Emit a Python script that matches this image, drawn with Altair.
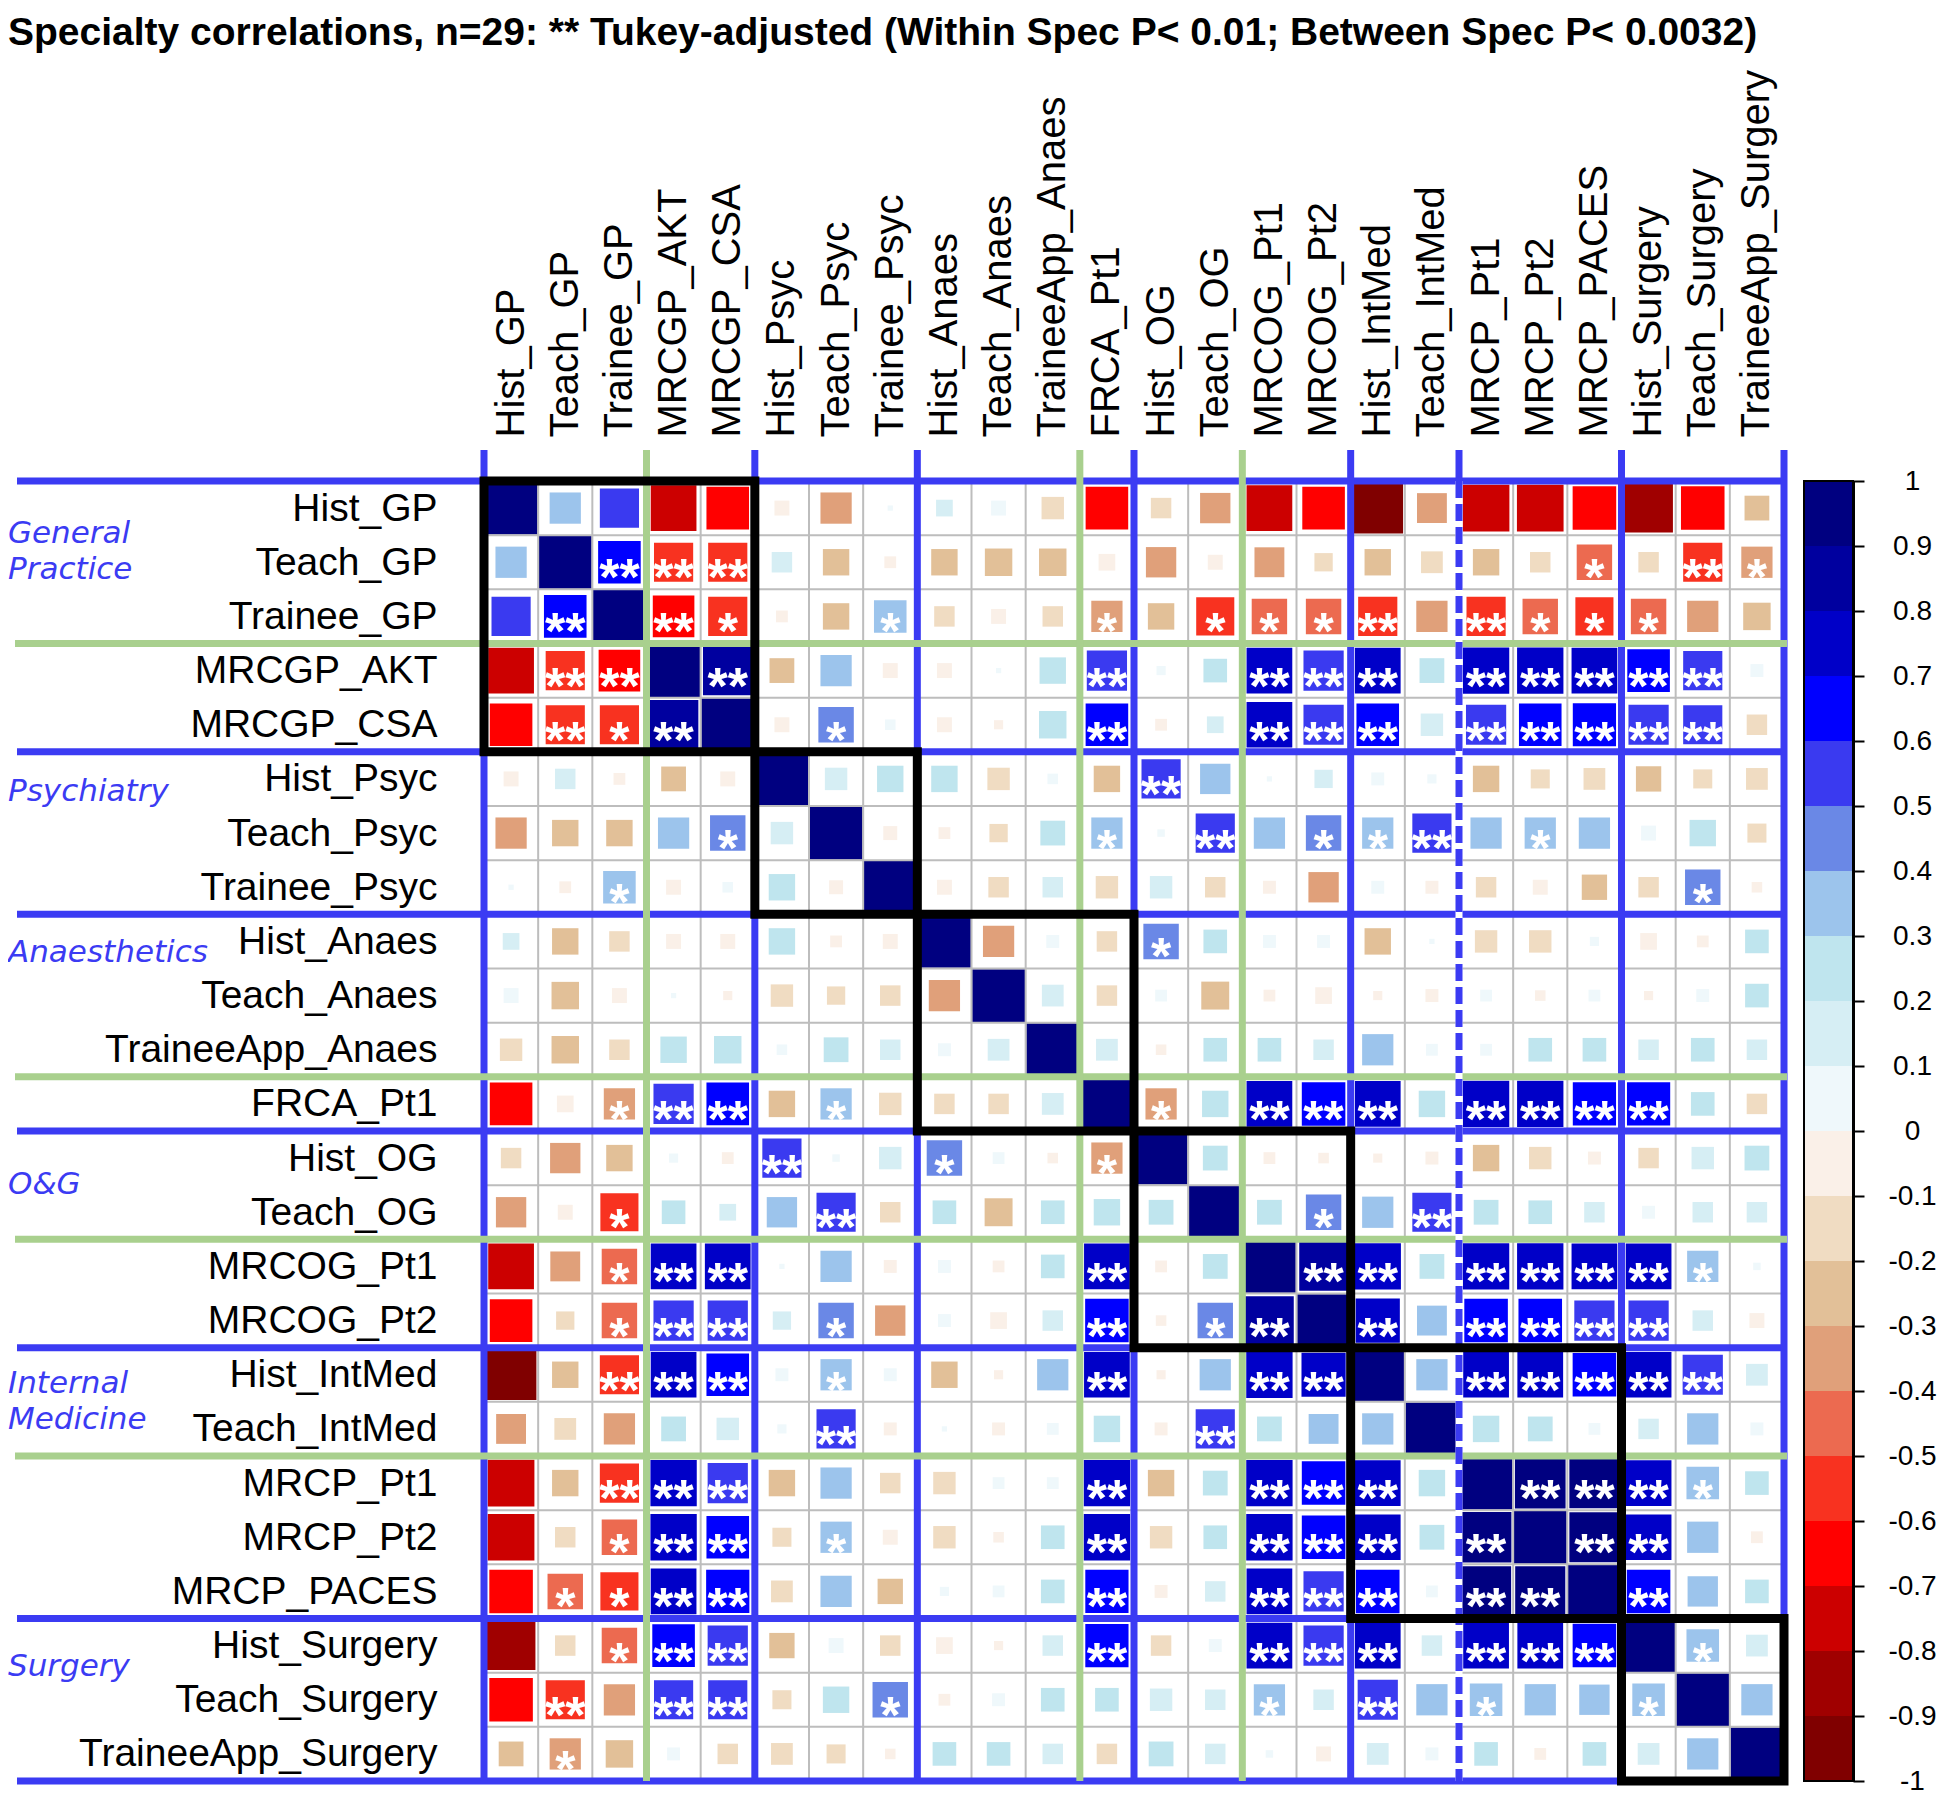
import json
import altair as alt
import pandas as pd

# ---------------- data ----------------
names = ["Hist_GP", "Teach_GP", "Trainee_GP", "MRCGP_AKT", "MRCGP_CSA",
         "Hist_Psyc", "Teach_Psyc", "Trainee_Psyc",
         "Hist_Anaes", "Teach_Anaes", "TraineeApp_Anaes", "FRCA_Pt1",
         "Hist_OG", "Teach_OG", "MRCOG_Pt1", "MRCOG_Pt2",
         "Hist_IntMed", "Teach_IntMed", "MRCP_Pt1", "MRCP_Pt2", "MRCP_PACES",
         "Hist_Surgery", "Teach_Surgery", "TraineeApp_Surgery"]

# lower triangle of the correlation matrix: row i (i>=1) holds r(i, 0..i-1)
lower = [
    [0.35],
    [0.55, 0.65],
    [-0.75, -0.55, -0.62],
    [-0.65, -0.55, -0.55, 0.88],
    [-0.08, 0.15, -0.05, -0.22, -0.08],
    [-0.35, -0.25, -0.25, 0.35, 0.45, 0.18],
    [0.01, -0.05, 0.38, -0.08, 0.04, 0.25, -0.07],
    [0.1, -0.25, -0.15, -0.08, -0.08, 0.25, -0.05, -0.08],
    [0.08, -0.27, -0.08, 0.01, -0.03, -0.18, -0.12, -0.15, -0.35],
    [-0.18, -0.27, -0.15, 0.25, 0.27, 0.04, 0.22, 0.15, 0.06, 0.17],
    [-0.65, -0.1, -0.35, 0.58, 0.65, -0.25, 0.35, -0.18, -0.15, -0.15, 0.17],
    [-0.15, -0.33, -0.25, 0.03, -0.05, 0.55, 0.02, 0.18, 0.45, 0.05, -0.04, -0.35],
    [-0.33, -0.08, -0.52, 0.2, 0.1, 0.33, 0.55, -0.15, 0.2, -0.28, 0.2, 0.25, 0.22],
    [-0.75, -0.32, -0.45, 0.75, 0.75, 0.01, 0.35, -0.06, 0.06, -0.05, 0.2, 0.75, -0.05, 0.22],
    [-0.65, -0.12, -0.45, 0.58, 0.58, 0.12, 0.45, -0.33, 0.06, -0.1, 0.15, 0.68, -0.04, 0.45, 0.85],
    [-0.92, -0.25, -0.55, 0.75, 0.65, 0.06, 0.35, 0.06, -0.25, -0.03, 0.35, 0.75, -0.03, 0.35, 0.77, 0.7],
    [-0.32, -0.17, -0.35, 0.22, 0.18, 0.03, 0.55, -0.06, 0.01, -0.06, 0.05, 0.25, -0.06, 0.55, 0.22, 0.32, 0.35],
    [-0.78, -0.25, -0.55, 0.77, 0.58, -0.25, 0.35, -0.15, -0.18, 0.05, 0.05, 0.77, -0.25, 0.22, 0.77, 0.68, 0.75, 0.25],
    [-0.78, -0.15, -0.45, 0.77, 0.65, -0.13, 0.35, -0.08, -0.18, -0.04, 0.2, 0.77, -0.18, 0.2, 0.77, 0.68, 0.75, 0.22, 0.92],
    [-0.68, -0.45, -0.52, 0.75, 0.67, -0.17, 0.35, -0.23, 0.03, 0.05, 0.2, 0.67, -0.06, 0.15, 0.75, 0.58, 0.68, 0.05, 0.9, 0.9],
    [-0.85, -0.15, -0.45, 0.65, 0.58, -0.23, 0.08, -0.15, -0.1, -0.03, 0.15, 0.67, -0.15, 0.06, 0.75, 0.58, 0.75, 0.15, 0.75, 0.75, 0.68],
    [-0.68, -0.55, -0.35, 0.55, 0.55, -0.13, 0.25, 0.45, -0.05, 0.06, 0.2, 0.2, 0.18, 0.15, 0.35, 0.15, 0.58, 0.35, 0.38, 0.35, 0.33, 0.38],
    [-0.22, -0.35, -0.27, 0.06, -0.15, -0.17, -0.13, -0.04, 0.2, 0.2, 0.15, -0.15, 0.22, 0.15, 0.02, -0.08, 0.17, 0.06, 0.2, -0.05, 0.2, 0.17, 0.35],
]

# significance codes, same layout: 0 = none, 1 = "*", 2 = "**"
star_codes = [
    "0",
    "02",
    "022",
    "0212",
    "00000",
    "000010",
    "0010000",
    "00000000",
    "000000000",
    "0000000000",
    "00122010000",
    "000002001001",
    "0010002000000",
    "00122000000200",
    "001220100002012",
    "0022201000020022",
    "00000020000002000",
    "002220000002002220",
    "0012201000020022202",
    "01122000000200222022",
    "001220000002002220222",
    "0202200100000010201001",
    "01000000000000000000000",
]

group_labels = ["General\nPractice", "Psychiatry", "Anaesthetics", "O&G",
                "Internal\nMedicine", "Surgery"]
group_rows = [1.31, 5.75, 8.72, 13.0, 17.0, 21.9]

blue_bounds = [0, 5, 8, 12, 16, 21, 24]
green_h_bounds = [3, 11, 14, 18]
green_v_bounds = [3, 11, 14]
dashed_v_bounds = [18]
box_lo = [0, 5, 8, 12, 16, 21]
box_hi = [5, 8, 12, 16, 21, 24]

thresholds = [round(-0.9 + 0.1 * k, 1) for k in range(19)]
palette = ["#800000", "#A00000", "#CC0000", "#FF0000", "#F83220",
           "#EC6A50", "#E0A07A", "#E2C098", "#F0DCC2", "#FAF0E8",
           "#EFF8FB", "#D6EEF4", "#BFE5EE", "#9CC4EC", "#6A88E6",
           "#3A3AF0", "#0000FF", "#0000C8", "#00009F", "#000080"]
tick_values = [round(-1 + 0.1 * k, 1) for k in range(21)]

# ---------------- styling ----------------
W = H = 1300
CELL = H / 24
BLUE = "#3B3BF3"
GREEN = "#A9D08E"
GRAY = "#BDBDBD"
FONT = "Liberation Sans"
GROUP_LINE_H = 36
LEG_X0, LEG_X1 = W + 20, W + 69

# ---------------- build tables ----------------
n = len(names)
recs = []
sym = {"0": "", "1": "*", "2": "**"}
for i in range(n):
    for j in range(n):
        if i == j:
            r, s = 1.0, ""
        else:
            a, b = max(i, j), min(i, j)
            r = lower[a - 1][b]
            s = sym[star_codes[a - 1][b]]
        recs.append({"row": i, "col": j, "r": r, "stars": s})
cells = pd.DataFrame(recs)

bounds_all = pd.DataFrame({"b": list(range(n + 1))})
blue_df = pd.DataFrame({"b": blue_bounds})
green_h_df = pd.DataFrame({"b": green_h_bounds})
green_v_df = pd.DataFrame({"b": green_v_bounds})
dashed_df = pd.DataFrame({"b": dashed_v_bounds})
boxes_df = pd.DataFrame({"lo": box_lo, "hi": box_hi})
groups_df = pd.DataFrame({"label": group_labels, "center": group_rows})
# first-line anchor so that a multi-line block is centred on its row position
groups_df["pos"] = groups_df["center"] - (
    groups_df["label"].str.count("\n") * GROUP_LINE_H / 2 / CELL)
bins_df = pd.DataFrame({"lo": tick_values[:-1], "hi": tick_values[1:]})
bins_df["mid"] = (bins_df["lo"] + bins_df["hi"]) / 2
frame_df = pd.DataFrame({"lo": [tick_values[0]], "hi": [tick_values[-1]]})

label_expr = json.dumps(names) + "[floor(datum.value)]"
centers = [i + 0.5 for i in range(n)]

xscale = alt.Scale(domain=[0, n], nice=False, zero=False)
yscale = alt.Scale(domain=[0, n], nice=False, zero=False, reverse=True)

xaxis = alt.Axis(orient="top", values=centers, labelExpr=label_expr,
                 labelAngle=270, labelAlign="left", labelBaseline="middle",
                 labelPadding=44, labelFontSize=40, labelFont=FONT,
                 labelColor="black", ticks=False, domain=False, grid=False,
                 labelOverlap=False, labelFlush=False, labelLimit=800)
yaxis = alt.Axis(orient="left", values=centers, labelExpr=label_expr,
                 labelAlign="right", labelBaseline="middle",
                 labelPadding=47, labelFontSize=39, labelFont=FONT,
                 labelColor="black", ticks=False, domain=False, grid=False,
                 labelOverlap=False, labelFlush=False, labelLimit=800)


def X(field):
    # every layer carries the same (shared) top axis so that they merge
    return alt.X(field, scale=xscale, axis=xaxis, title=None)


color_scale = alt.Scale(type="threshold", domain=thresholds, range=palette)

base = alt.Chart(cells).transform_calculate(
    xc="datum.col + 0.5", yc="datum.row + 0.5", ar="abs(datum.r)")

squares = base.mark_square(filled=True, opacity=1).encode(
    x=X("xc:Q"),
    y=alt.Y("yc:Q", scale=yscale, axis=yaxis, title=None),
    color=alt.Color("r:Q", scale=color_scale, legend=None),
    size=alt.Size("ar:Q", scale=alt.Scale(domain=[0, 1], range=[0, 2790]),
                  legend=None),
)

stars = base.transform_filter("datum.stars != ''").mark_text(
    color="white", font=FONT, fontSize=52, fontWeight="bold",
    baseline="alphabetic", align="center", dy=33).encode(
    x=X("xc:Q"),
    y=alt.Y("yc:Q", scale=yscale, axis=None),
    text="stars:N",
)


def vrules(df, color, width, top, dash=None):
    kw = dict(color=color, strokeWidth=width)
    if dash:
        kw["strokeDash"] = dash
    return alt.Chart(df).mark_rule(**kw).encode(
        x=X("b:Q"), y=alt.value(top), y2=alt.value(H))


def hrules(df, color, width, left, right):
    return alt.Chart(df).mark_rule(color=color, strokeWidth=width).encode(
        y=alt.Y("b:Q", scale=yscale, axis=None),
        x=alt.value(left), x2=alt.value(right))


grid_v = vrules(bounds_all, GRAY, 2, 0)
grid_h = hrules(bounds_all, GRAY, 2, 0, W)
blue_v = vrules(blue_df, BLUE, 7, -31)
blue_h = hrules(blue_df, BLUE, 7, -467, W + 3)
green_v = vrules(green_v_df, GREEN, 7, -31)
green_h = hrules(green_h_df, GREEN, 7, -469, W + 3)
dash_white = vrules(dashed_df, "white", 7, 0)
dash_v = vrules(dashed_df, BLUE, 7, 0, dash=[17, 6])
dash_top = alt.Chart(dashed_df).mark_rule(color=BLUE, strokeWidth=7).encode(
    x=X("b:Q"), y=alt.value(-31), y2=alt.value(0))

boxes = alt.Chart(boxes_df).mark_rect(
    fillOpacity=0, stroke="black", strokeWidth=9).encode(
    x=X("lo:Q"), x2="hi:Q",
    y=alt.Y("lo:Q", scale=yscale, axis=None), y2="hi:Q")

groups = alt.Chart(groups_df).mark_text(
    align="left", baseline="middle", font="DejaVu Sans", fontStyle="italic",
    fontSize=31, color=BLUE, lineBreak="\n", lineHeight=GROUP_LINE_H).encode(
    x=alt.value(-476),
    y=alt.Y("pos:Q", scale=yscale, axis=None),
    text="label:N")

legend_axis = alt.Axis(orient="right", offset=LEG_X1 - W, values=tick_values,
                       labelExpr="toString(round(datum.value*10)/10)",
                       ticks=True, tickSize=11, tickColor="black", tickWidth=2,
                       domain=True, domainColor="black", domainWidth=3,
                       labelAlign="center", labelBaseline="middle",
                       labelPadding=48, labelFontSize=28, labelFont=FONT,
                       labelColor="black", grid=False, labelOverlap=False,
                       labelFlush=False)
lscale = alt.Scale(domain=[-1, 1], nice=False, zero=False)

legend_bins = alt.Chart(bins_df).mark_rect().encode(
    y=alt.Y("lo:Q", scale=lscale, axis=legend_axis, title=None),
    y2="hi:Q",
    x=alt.value(LEG_X0), x2=alt.value(LEG_X1),
    color=alt.Color("mid:Q", scale=color_scale, legend=None))
legend_frame = alt.Chart(frame_df).mark_rect(
    fillOpacity=0, stroke="black", strokeWidth=2).encode(
    y=alt.Y("lo:Q", scale=lscale, axis=None), y2="hi:Q",
    x=alt.value(LEG_X0), x2=alt.value(LEG_X1))

title = alt.Title(
    "Specialty correlations, n=29: ** Tukey-adjusted (Within Spec P< 0.01; Between Spec P< 0.0032)",
    anchor="start", font=FONT, fontSize=39, fontWeight="bold",
    color="black", offset=16)

chart = alt.layer(
    squares, grid_v, grid_h, stars, blue_h, blue_v, green_h, green_v,
    dash_white, dash_v, dash_top, boxes, groups, legend_bins, legend_frame
).resolve_scale(y="independent").properties(
    width=W, height=H, title=title, background="white",
    padding={"top": 6, "bottom": 0, "left": 0, "right": 0}
).configure_view(stroke=None)

chart.save("out.html", embed_options={"renderer": "svg", "actions": False})
